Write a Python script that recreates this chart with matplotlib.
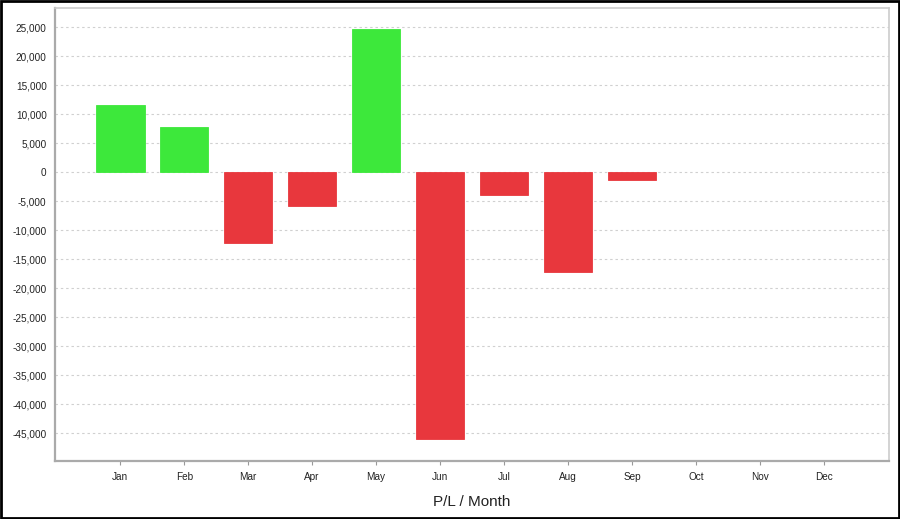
import matplotlib
matplotlib.use("Agg")
import matplotlib.pyplot as plt
from matplotlib.ticker import FuncFormatter, MultipleLocator
from matplotlib.patches import Rectangle

months = ["Jan", "Feb", "Mar", "Apr", "May", "Jun", "Jul", "Aug", "Sep", "Oct", "Nov", "Dec"]
pl_values = [11500, 7700, -12200, -5900, 24700, -46000, -3900, -17200, -1380, 0, 0, 0]

green = "#3de83b"
red = "#e8373d"

plt.rcParams["font.family"] = ["Liberation Sans", "DejaVu Sans"]

fig = plt.figure(figsize=(9.0, 5.19), dpi=100)
ax = fig.add_axes([55 / 900, 1 - 461 / 519, (889 - 55) / 900, (461 - 8) / 519])

x = list(range(len(months)))
colors = [green if v >= 0 else red for v in pl_values]
bars = ax.bar(x, pl_values, width=0.76, color=colors, edgecolor=colors, linewidth=0.6, zorder=3)
for b, v in zip(bars, pl_values):
    if v == 0:
        b.set_visible(False)

ax.set_xlim(-1.02, 12.02)
ax.set_ylim(-49800, 28300)
ax.yaxis.set_major_locator(MultipleLocator(5000))
ax.yaxis.set_major_formatter(FuncFormatter(lambda v, p: f"{int(v):,}"))
ax.set_xticks(x)
ax.set_xticklabels(months)

ax.grid(axis="y", color="#d0d0d0", linestyle=(0, (2.2, 2.6)), linewidth=0.8, zorder=0)
ax.set_axisbelow(True)

ax.tick_params(axis="y", length=0, labelsize=7.2, pad=6, colors="#222222")
ax.tick_params(axis="x", length=3, width=0.8, color="#999999", labelsize=7.2, pad=5, labelcolor="#222222")

for side in ["left", "bottom"]:
    ax.spines[side].set_color("#aaaaaa")
    ax.spines[side].set_linewidth(1.6)
for side in ["top", "right"]:
    ax.spines[side].set_color("#cccccc")
    ax.spines[side].set_linewidth(1.2)

ax.set_xlabel("P/L / Month", fontsize=11, color="#222222", labelpad=9.5)

fig.patches.append(Rectangle((0.001, 0.001), 0.998, 0.997, transform=fig.transFigure,
                             fill=False, edgecolor="black", linewidth=2))

fig.savefig("out.png", dpi=100)
